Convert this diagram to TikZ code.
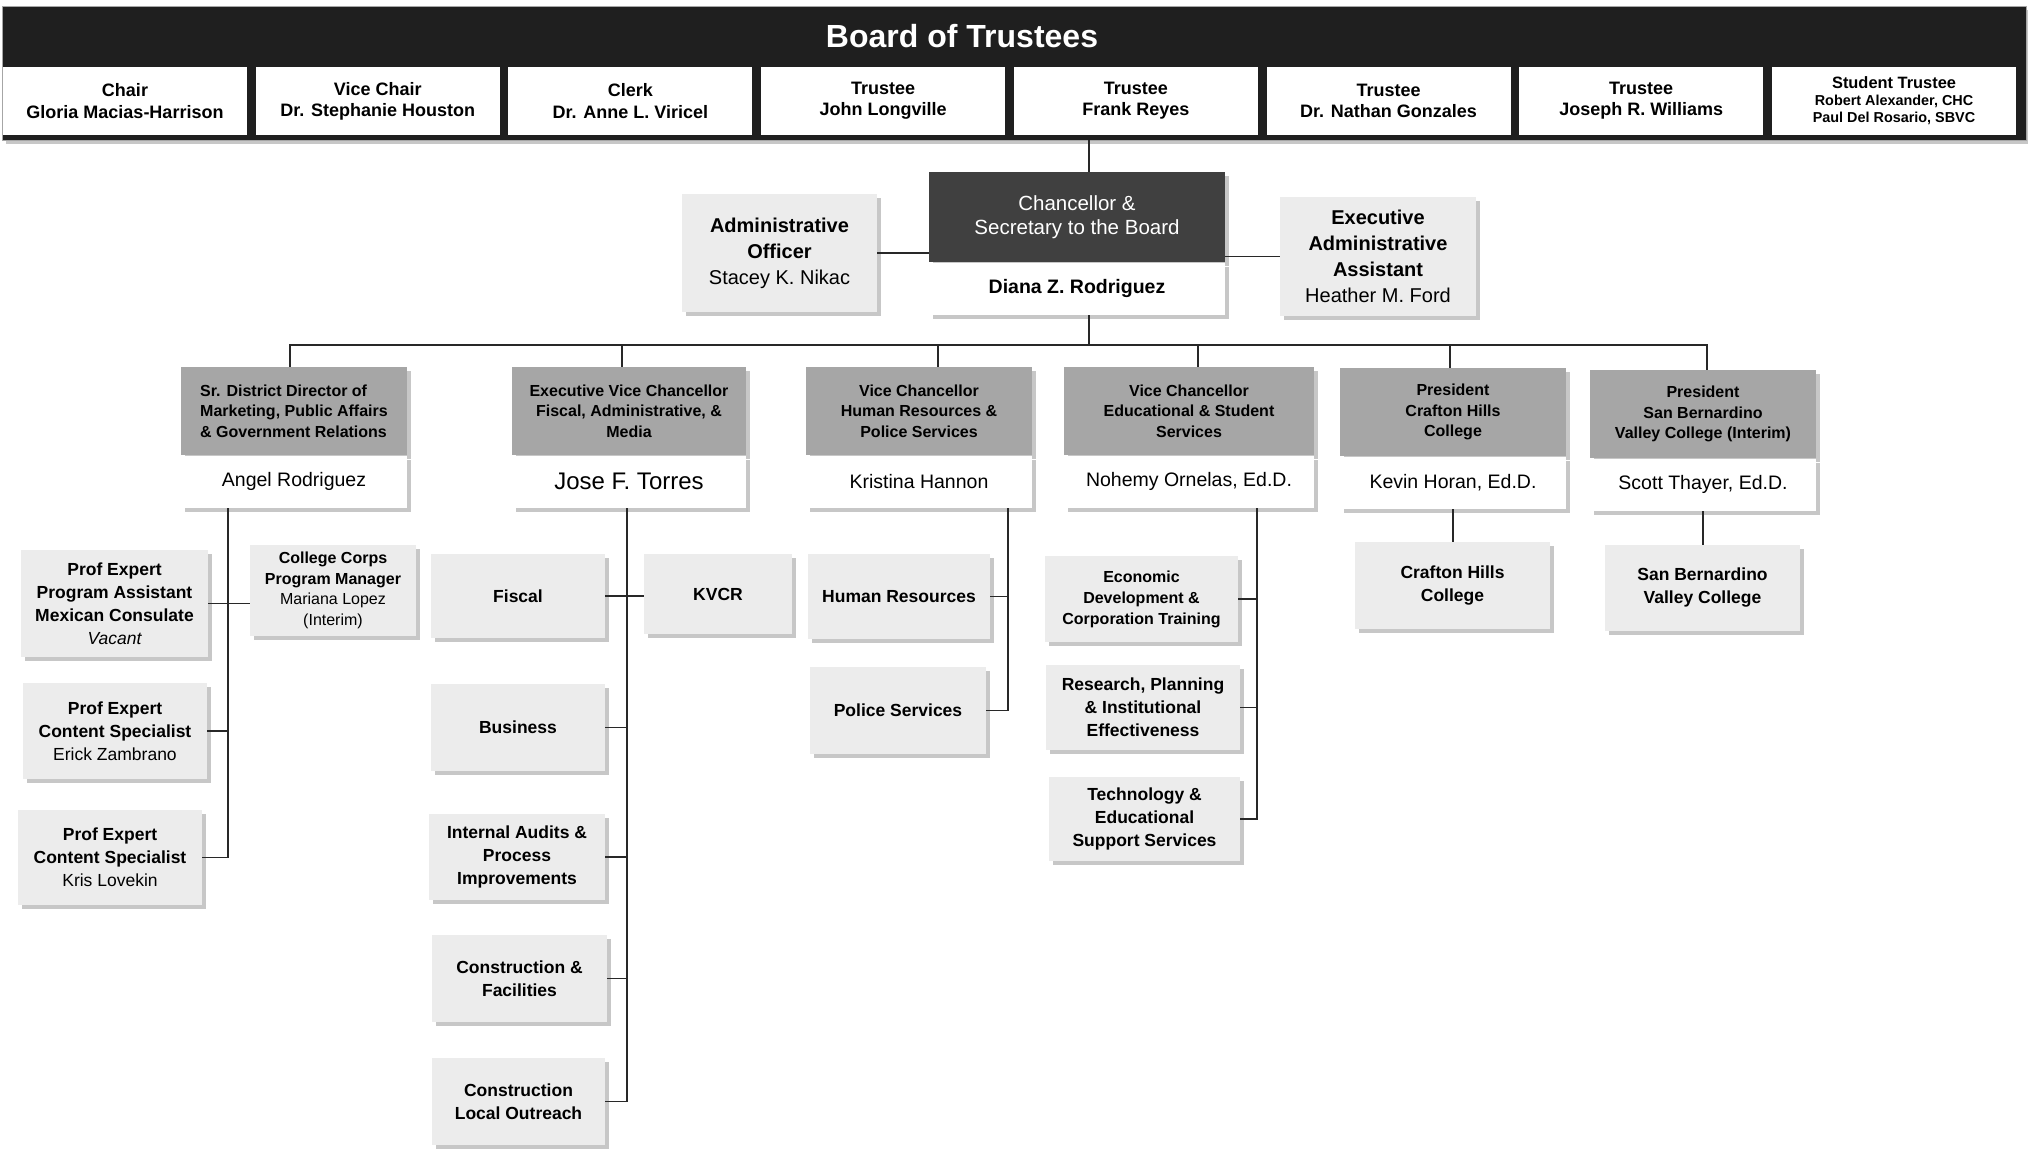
\documentclass[tikz,border=0pt]{standalone}
\usepackage{fontspec}
\setmainfont{Liberation Sans}
\usetikzlibrary{positioning,shadows}
\definecolor{bandblack}{RGB}{31,31,31}
\definecolor{chanfill}{RGB}{64,64,64}
\definecolor{deptfill}{RGB}{166,166,166}
\definecolor{unitfill}{RGB}{236,236,236}
\definecolor{linkgray}{RGB}{40,40,40}
\newcommand{\fsz}[2]{\fontsize{#1}{#2}\selectfont}

\begin{document}
\begin{tikzpicture}[
    x=0.5pt, y=-0.5pt,
    link/.style={draw=linkgray, line width=0.6pt},
    boxshadow/.style={drop shadow={shadow xshift=2pt, shadow yshift=-2pt, fill=black!40, opacity=0.55}},
    member/.style={fill=white, minimum width=122pt, minimum height=34pt, inner sep=1pt, align=center, font=\bfseries\fsz{9}{10.6}},
    deptbox/.style={fill=deptfill, boxshadow, inner sep=2pt, minimum height=44pt, align=center, font=\bfseries\fsz{8}{10.25}},
    namebox/.style={fill=white, boxshadow, inner sep=2pt, minimum height=26pt, font=\fsz{9.75}{12}},
    staffbox/.style={fill=unitfill, boxshadow, inner sep=2pt, align=center, font=\fsz{10}{13}},
    unit/.style={fill=unitfill, boxshadow, inner sep=2pt, align=center, font=\bfseries\fsz{8.75}{11.5}},
  ]
  \useasboundingbox (0,0) rectangle (2028,1150);

  %% ---------------- board of trustees ----------------
  \node[fill=bandblack, draw=black!35, line width=0.4pt, boxshadow,
        minimum width=1012pt, minimum height=67pt, inner sep=0pt] (band) at (1014,73) {};
  \node[font=\bfseries\fsz{16}{19}, text=white] (bandtitle) at (962,36) {Board of Trustees};
  \foreach \i/\role/\who in {1/Chair/Gloria Macias-Harrison, 2/Vice Chair/Dr. Stephanie Houston,
      3/Clerk/Dr. Anne L. Viricel, 4/Trustee/John Longville, 5/Trustee/Frank Reyes,
      6/Trustee/Dr. Nathan Gonzales, 7/Trustee/Joseph R. Williams}
    \node[member] (m\i) at ({125+252.7*(\i-1)},101) {\role\\\who};
  \node[member, font=\bfseries\fsz{7.2}{8.5}] (m8) at (1894,101)
    {{\fsz{8.2}{9}Student Trustee}\\Robert Alexander, CHC\\Paul Del Rosario, SBVC};

  %% ---------------- chancellor and staff ----------------
  \node[fill=chanfill, boxshadow, text=white, minimum width=148pt, minimum height=45pt,
        inner sep=2pt, align=center, font=\fsz{10.25}{12}] (chan) at (1077,217)
    {Chancellor \&\\Secretary to the Board};
  \node[namebox, minimum width=148pt, below=0pt of chan, font=\bfseries\fsz{9.75}{12}] (channame)
    {Diana Z. Rodriguez};
  \node[staffbox, minimum width=97.5pt, minimum height=59pt] (adminoff) at (779.5,253)
    {\textbf{Administrative}\\\textbf{Officer}\\Stacey K. Nikac};
  \node[staffbox, minimum width=98pt, minimum height=59.5pt] (execasst) at (1378,256.5)
    {\textbf{Executive}\\\textbf{Administrative}\\\textbf{Assistant}\\Heather M. Ford};

  %% ---------------- direct reports ----------------
  \node[deptbox, minimum width=113pt, align=left] (sdd) at (294,411)
    {Sr. District Director of\\Marketing, Public Affairs\\\& Government Relations};
  \node[namebox, minimum width=113pt, below=0pt of sdd] (sddname) {Angel Rodriguez};
  \node[deptbox, minimum width=117pt] (evc) at (629,411)
    {Executive Vice Chancellor\\Fiscal, Administrative, \&\\Media};
  \node[namebox, minimum width=117pt, below=0pt of evc, font=\fsz{12}{14}] (evcname) {Jose F. Torres};
  \node[deptbox, minimum width=113pt] (vchr) at (919,411)
    {Vice Chancellor\\Human Resources \&\\Police Services};
  \node[namebox, minimum width=113pt, below=0pt of vchr] (vchrname) {Kristina Hannon};
  \node[deptbox, minimum width=125pt] (vced) at (1189,411)
    {Vice Chancellor\\Educational \& Student\\Services};
  \node[namebox, minimum width=125pt, below=0pt of vced] (vcedname) {Nohemy Ornelas, Ed.D.};
  \node[deptbox, minimum width=113pt] (chcpres) at (1453,412)
    {President\\Crafton Hills\\College};
  \node[namebox, minimum width=113pt, below=0pt of chcpres] (chcname) {Kevin Horan, Ed.D.};
  \node[deptbox, minimum width=113pt] (sbvcpres) at (1703,414)
    {President\\San Bernardino\\Valley College (Interim)};
  \node[namebox, minimum width=113pt, below=0pt of sbvcpres] (sbvcname) {Scott Thayer, Ed.D.};

  %% ---------------- units ----------------
  % marketing
  \node[unit, minimum width=93.5pt, minimum height=53.5pt] (pe1) at (114.5,603.5)
    {Prof Expert\\Program Assistant\\Mexican Consulate\\\mdseries\itshape Vacant};
  \node[unit, minimum width=83pt, minimum height=45.5pt, font=\bfseries\fsz{8}{10.25}] (cc) at (333,590.5)
    {College Corps\\Program Manager\\\mdseries Mariana Lopez\\\mdseries (Interim)};
  \node[unit, minimum width=92pt, minimum height=48pt] (pe2) at (115,731)
    {Prof Expert\\Content Specialist\\\mdseries Erick Zambrano};
  \node[unit, minimum width=92pt, minimum height=47.5pt] (pe3) at (110,857.5)
    {Prof Expert\\Content Specialist\\\mdseries Kris Lovekin};
  % fiscal
  \node[unit, minimum width=87pt, minimum height=42pt] (fiscal) at (518,596) {Fiscal};
  \node[unit, minimum width=74pt, minimum height=40pt] (kvcr) at (718,594) {KVCR};
  \node[unit, minimum width=87pt, minimum height=43.5pt] (business) at (518,727.5) {Business};
  \node[unit, minimum width=88pt, minimum height=43pt] (audits) at (517,857)
    {Internal Audits \&\\Process\\Improvements};
  \node[unit, minimum width=87.5pt, minimum height=43.5pt] (facilities) at (519.5,978.5)
    {Construction \&\\Facilities};
  \node[unit, minimum width=86.5pt, minimum height=43.5pt] (outreach) at (518.5,1101.5)
    {Construction\\Local Outreach};
  % human resources
  \node[unit, minimum width=91pt, minimum height=42.5pt] (hr) at (899,596.5) {Human Resources};
  \node[unit, minimum width=88pt, minimum height=43.5pt] (police) at (898,710.5) {Police Services};
  % educational services
  \node[unit, minimum width=96.5pt, minimum height=43pt, font=\bfseries\fsz{8}{10.5}] (econ) at (1141.5,599)
    {Economic\\Development \&\\Corporation Training};
  \node[unit, minimum width=97pt, minimum height=42.5pt] (research) at (1143,707.5)
    {Research, Planning\\\& Institutional\\Effectiveness};
  \node[unit, minimum width=95.5pt, minimum height=42pt] (tech) at (1144.5,819)
    {Technology \&\\Educational\\Support Services};
  % colleges
  \node[unit, minimum width=97.5pt, minimum height=43.5pt] (chc) at (1452.5,585.5)
    {Crafton Hills\\College};
  \node[unit, minimum width=97.5pt, minimum height=43pt] (sbvc) at (1702.5,588)
    {San Bernardino\\Valley College};

  %% ---------------- connectors ----------------
  \draw[link] ([xshift=6pt]chan.north) -- ([xshift=6pt]chan.north |- band.south);
  \draw[link] (adminoff.east) -- (adminoff.east -| chan.west);
  \draw[link] (execasst.west) -- (execasst.west -| chan.east);

  \coordinate (bus) at (1089,345);
  \draw[link] ([xshift=6pt]channame.south) -- (bus);
  \draw[link] ([xshift=-2pt]sdd.north) |- (bus) -| ([xshift=2pt]sbvcpres.north);
  \foreach \n/\dx in {evc/-3.5pt, vchr/9.5pt, vced/4.5pt, chcpres/-1.5pt}
    \draw[link] ([xshift=\dx]\n.north) -- ([xshift=\dx]\n.north |- bus);

  \coordinate (sddtrunk) at ([xshift=-33pt]sddname.south);
  \draw[link] (sddtrunk) |- (pe3.east);
  \draw[link] (pe2.east) -- (pe2.east -| sddtrunk);
  \draw[link] (pe1.east) -- (pe1.east -| cc.west);

  \coordinate (evctrunk) at ([xshift=-1pt]evcname.south);
  \draw[link] (evctrunk) |- (outreach.east);
  \foreach \u in {business,audits,facilities}
    \draw[link] (\u.east) -- (\u.east -| evctrunk);
  \draw[link] (fiscal.east) -- (fiscal.east -| kvcr.west);

  \coordinate (vchrtrunk) at ([xshift=44.5pt]vchrname.south);
  \draw[link] (vchrtrunk) |- (police.east);
  \draw[link] (hr.east) -- (hr.east -| vchrtrunk);

  \coordinate (vcedtrunk) at ([xshift=34pt]vcedname.south);
  \draw[link] (vcedtrunk) |- (tech.east);
  \foreach \u in {econ,research}
    \draw[link] (\u.east) -- (\u.east -| vcedtrunk);

  \draw[link] (chcname.south) -- (chcname.south |- chc.north);
  \draw[link] (sbvcname.south) -- (sbvcname.south |- sbvc.north);

\end{tikzpicture}
\end{document}
